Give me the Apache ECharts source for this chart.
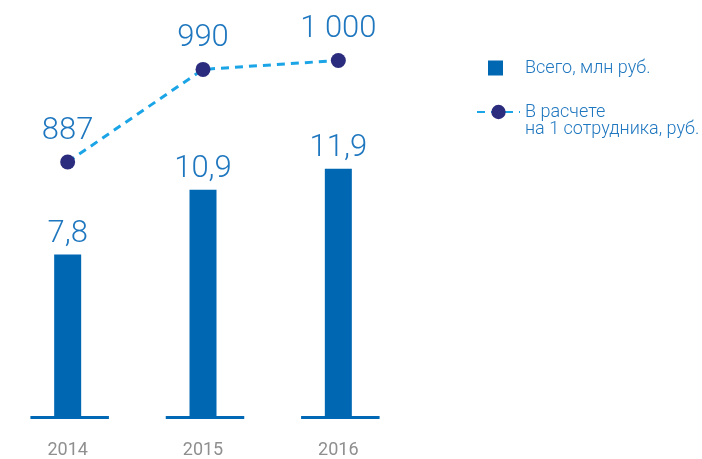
<!DOCTYPE html>
<html><head><meta charset="utf-8">
<script src="https://cdn.jsdelivr.net/npm/echarts@6/dist/echarts.min.js"></script>
<style>html,body{margin:0;padding:0;background:#fff}#c{width:702px;height:459px}</style>
</head><body><div id="c"></div>
<script>
var categories = ['2014', '2015', '2016'];
var totalValues = [7.8, 10.9, 11.9];
var perEmployeeValues = [887, 990, 1000];
var seriesNames = ['Всего, млн руб.', 'В расчете\nна 1 сотрудника, руб.'];

var FONT = 'Roboto';
var labelBlue = '#1f77bf';
var chart = echarts.init(document.getElementById('c'));
chart.setOption({
  animation: false,
  textStyle: { fontFamily: FONT },
  grid: { left: 0, width: 406, top: 20, bottom: 37, containLabel: false },
  legend: [{
    data: [seriesNames[0]],
    orient: 'vertical', left: 488, top: 58, padding: 0,
    itemWidth: 49, itemHeight: 15, itemGap: 0,
    icon: 'path://M0,0L10,0L10,10L0,10Z', symbolKeepAspect: true,
    textStyle: { fontFamily: FONT, fontSize: 18, color: labelBlue, fontWeight: 300, lineHeight: 20 }
  }, {
    data: [seriesNames[1]],
    orient: 'vertical', left: 476, top: 86, padding: 0,
    itemWidth: 43, itemHeight: 18, itemGap: 0,
    formatter: function (name) { return ' \n' + name; },
    textStyle: { fontFamily: FONT, fontSize: 18, color: labelBlue, fontWeight: 300, lineHeight: 17 }
  }],
  xAxis: {
    type: 'category', data: categories,
    axisLine: { show: false }, axisTick: { show: false },
    axisLabel: { color: '#8f8f8f', fontSize: 18, fontFamily: FONT, margin: 23 }
  },
  yAxis: [
    { type: 'value', min: 0, max: 19, show: false },
    { type: 'value', min: 602, max: 1045, show: false }
  ],
  series: [{
    type: 'custom',
    silent: true,
    z: 1,
    data: categories.map(function (c, i) { return [i, 0]; }),
    renderItem: function (params, api) {
      var p = api.coord([api.value(0), 0]);
      var w = api.size([1, 0])[0] * 0.58;
      return {
        type: 'line',
        shape: { x1: p[0] - w / 2 + 2, y1: p[1] - 0.5, x2: p[0] + w / 2 + 2, y2: p[1] - 0.5 },
        style: { stroke: '#0068b4', lineWidth: 3 }
      };
    }
  }, {
    name: seriesNames[0],
    type: 'bar',
    data: totalValues,
    barWidth: 27,
    z: 2,
    itemStyle: { color: '#0067b3' },
    label: {
      show: true, position: 'top', distance: 5,
      fontFamily: FONT, fontSize: 31, fontWeight: 300, color: labelBlue,
      formatter: function (p) { return String(p.value).replace('.', ','); }
    }
  }, {
    name: seriesNames[1],
    type: 'line',
    yAxisIndex: 1,
    data: perEmployeeValues,
    symbol: 'circle', symbolSize: 15,
    z: 3,
    lineStyle: { color: '#1ba5e6', width: 3, type: [8, 6] },
    itemStyle: { color: '#2b2c7e' },
    label: {
      show: true, position: 'top', distance: 8,
      fontFamily: FONT, fontSize: 31, fontWeight: 300, color: labelBlue,
      formatter: function (p) { return String(p.value).replace(/\B(?=(\d{3})+(?!\d))/g, ' '); }
    }
  }]
});
</script></body></html>
